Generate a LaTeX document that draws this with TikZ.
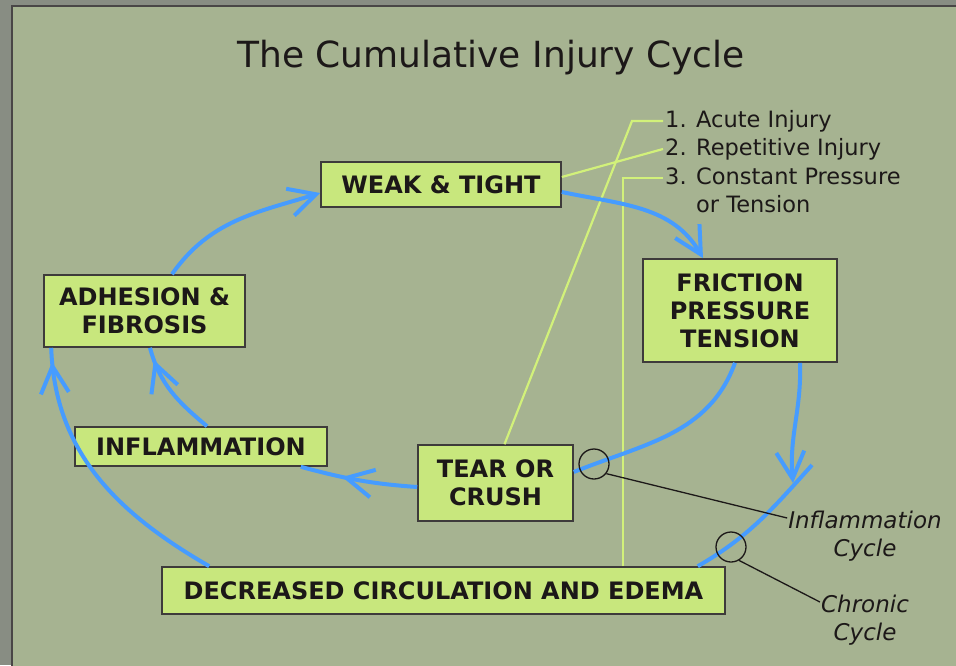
\documentclass[tikz,border=0pt]{standalone}
\usepackage{fontspec}
\setmainfont{DejaVu Sans}
\usetikzlibrary{arrows.meta,decorations.markings}
\definecolor{panel}{RGB}{166,179,145}
\definecolor{frame}{RGB}{136,141,131}
\definecolor{boxfill}{RGB}{200,231,125}
\definecolor{cycleblue}{RGB}{70,156,255}
\definecolor{leadgreen}{RGB}{210,241,122}
\definecolor{inkdark}{RGB}{28,24,24}
\tikzset{
  >={Straight Barb[length=27pt,width=28pt]},
  tipat/.style={postaction={decorate},
    decoration={markings,mark=at position #1 with {\arrow{>}}}}
}

\begin{document}
\begin{tikzpicture}[x=1pt,y=1pt]
\tikzstyle{stage}=[draw=inkdark!85,fill=boxfill,line width=1.6pt,align=center,inner sep=0pt,text=inkdark,font=\fontsize{24}{28}\selectfont\bfseries]
\tikzstyle{flow}=[draw=cycleblue,line width=4pt]
\tikzstyle{lead}=[draw=leadgreen,line width=2.2pt]
\tikzstyle{pointer}=[draw=inkdark,line width=1.3pt]
\tikzstyle{ring}=[circle,draw=inkdark,line width=1.3pt,minimum size=30pt,inner sep=0pt]
\tikzstyle{legend}=[anchor=west,inner xsep=2pt,inner ysep=0pt,text height=12pt,text depth=0pt,text=inkdark,font=\fontsize{22.5}{28}\selectfont]
\tikzstyle{cyclelabel}=[align=center,inner sep=1pt,text=inkdark,font=\fontsize{23}{28}\selectfont\itshape]
\useasboundingbox (0,-665) rectangle (956,0);
\fill[frame] (0,-665) rectangle (956,0);
\filldraw[fill=panel,draw=inkdark!80,line width=1.5pt] (12,-6) rectangle (975,-685);

\node[anchor=base,text=inkdark,font=\fontsize{36}{40}\selectfont] (title) at (491,-67) {The Cumulative Injury Cycle};

% legend
\node[legend] (acute) at (663,-121) {1. Acute Injury};
\node[legend] (repeat) at (663,-149) {2. Repetitive Injury};
\node[legend] (steady) at (663,-178) {3. Constant Pressure};
\node[legend] (tension) at (663,-206) {\phantom{3. }or Tension};

% stages of the cycle
\node[stage,minimum width=240pt,minimum height=45pt] (weak) at (441,-184.5) {WEAK \& TIGHT};
\node[stage,minimum width=194pt,minimum height=103pt] (force) at (740,-310.5) {FRICTION\\PRESSURE\\TENSION};
\node[stage,minimum width=201pt,minimum height=72pt] (adhesion) at (144.5,-311) {ADHESION \&\\FIBROSIS};
\node[stage,minimum width=252pt,minimum height=39pt] (inflam) at (201,-446.5) {INFLAMMATION};
\node[stage,minimum width=155pt,minimum height=76pt] (tear) at (495.5,-483) {TEAR OR\\CRUSH};
\node[stage,minimum width=563pt,minimum height=47pt] (edema) at (443.5,-590.5) {DECREASED CIRCULATION AND EDEMA};

% green leaders to the legend
\coordinate (bend1) at (632,-121);
\draw[lead] ([xshift=9pt]tear.north) -- (bend1) -- (acute.west);
\draw[lead] ([yshift=7.5pt]weak.east) -- (repeat.west);
\draw[lead] ([xshift=179.5pt]edema.north) |- (steady.west);

% the cycles
\coordinate (ctip) at (793,-483);
\coordinate (ctop) at (812,-465);
\draw[flow,->] ([xshift=27.5pt]adhesion.north) to[out=55,in=197] ([yshift=-8.5pt]weak.west);
\draw[flow,->] ([yshift=-7.5pt]weak.east) to[out=-12,in=120] ([xshift=-37pt]force.north);
\draw[flow] ([xshift=-5pt]force.south) to[out=250,in=22] ([yshift=11pt]tear.east);
\draw[flow,tipat=0.64] ([yshift=-4pt]tear.west) to[out=176,in=-15] ([xshift=-27pt]inflam.south east);
\draw[flow,tipat=0.87] ([xshift=6pt]inflam.north) to[out=140,in=-75] ([xshift=5.5pt]adhesion.south);
\draw[flow,tipat=0.95] ([xshift=48pt]edema.north west) to[out=150,in=-88] ([xshift=8pt]adhesion.south west);
\draw[flow,->] ([xshift=60pt]force.south) to[out=-88,in=95] (ctip);
\draw[flow] (ctop) to[out=228,in=30] ([xshift=-28pt]edema.north east);

% cycle labels
\node[ring] (ring1) at (594,-464) {};
\node[ring] (ring2) at (731,-547) {};
\node[cyclelabel] (inflcycle) at (865,-536) {Inflammation\\Cycle};
\node[cyclelabel] (chronic) at (865,-620) {Chronic\\Cycle};
\draw[pointer] (ring1.-38) -- ([yshift=18pt]inflcycle.west);
\draw[pointer] (ring2.-59) -- ([yshift=18pt]chronic.west);
\end{tikzpicture}
\end{document}
